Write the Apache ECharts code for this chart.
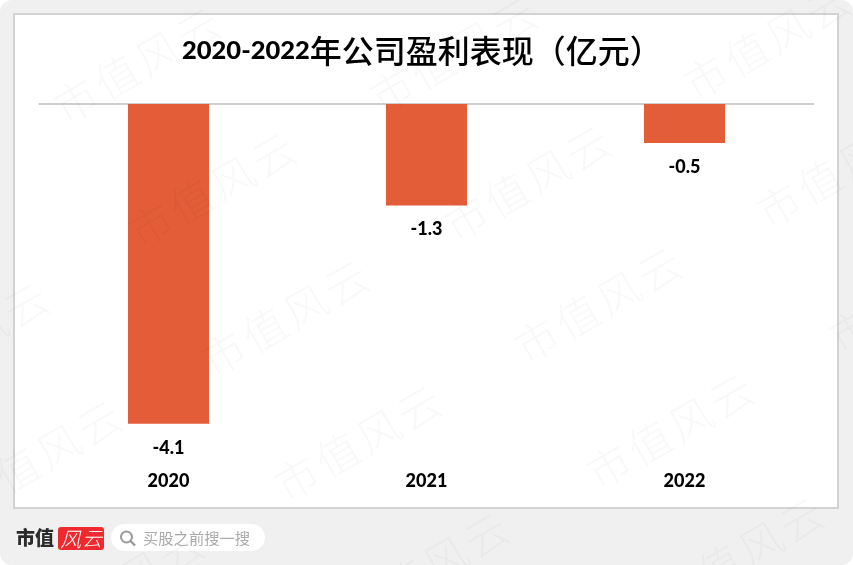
<!DOCTYPE html>
<html>
<head>
<meta charset="utf-8">
<title>公司盈利表现</title>
<style>html,body{margin:0;padding:0;background:#fff}#c{width:853px;height:565px}</style>
<script src="https://cdn.jsdelivr.net/npm/echarts@6/dist/echarts.min.js"></script>
</head>
<body>
<div id="c"></div>
<script>
// 年度净利润（亿元）
const years = ['2020', '2021', '2022'];
const profit = [-4.1, -1.3, -0.5];
const titleYears = '2020-2022';
const titleText = '年公司盈利表现（亿元）';
const brand = '市值';
const searchHint = '买股之前搜一搜';

// 水印：每组文字的中心点
const stampChars = ['市', '值', '风', '云'];
const stampCenters = [
  [137, 65], [453, 55], [767, 42],
  [212, 190], [527, 183], [840, 170],
  [-35, 340], [285, 318], [598, 305], [912, 295],
  [38, 458], [358, 443], [670, 431],
  [120, 585], [425, 570], [740, 555]
];

const CJK = '"Noto Sans CJK SC"';
const LATIN = 'Lato, ' + CJK;

function stampElements() {
  const out = [];
  const step = 47, angle = Math.PI / 6;
  stampCenters.forEach(([cx, cy]) => {
    stampChars.forEach((ch, i) => {
      const d = (i - 1.5) * step;
      out.push({
        type: 'text', z: 100, silent: true,
        x: cx + d * Math.cos(angle), y: cy - d * Math.sin(angle),
        rotation: angle,
        style: {
          text: ch, fill: 'rgba(0,0,0,0.028)', font: '200 43px ' + CJK,
          align: 'center', verticalAlign: 'middle'
        }
      });
    });
  });
  return out;
}

const frame = [
  { type: 'rect', z: -20, shape: { x: 0, y: 0, width: 853, height: 565, r: 12 }, style: { fill: '#f0f0f0' } },
  { type: 'rect', z: -19, shape: { x: 14, y: 14, width: 824, height: 494 }, style: { fill: '#fff', stroke: '#d2d2d2', lineWidth: 2 } }
];

const footer = [
  { type: 'text', z: 5, x: 16, y: 538, style: { text: brand, fill: '#2b2b2b', font: '900 19px ' + CJK, verticalAlign: 'middle' } },
  { type: 'rect', z: 5, shape: { x: 58, y: 527, width: 46, height: 23, r: 3 }, style: { fill: '#ee2a2e' } },
  { type: 'text', z: 6, x: 60, y: 539, style: { text: '风', fill: '#fff', font: 'italic 200 21px ' + CJK, verticalAlign: 'middle' } },
  { type: 'text', z: 6, x: 82, y: 538, style: { text: '云', fill: '#fff', font: 'italic 200 20px ' + CJK, verticalAlign: 'middle' } },
  { type: 'rect', z: 5, shape: { x: 111, y: 524, width: 154, height: 27, r: 13.5 }, style: { fill: '#fff' } },
  { type: 'circle', z: 6, shape: { cx: 126.5, cy: 537, r: 5.5 }, style: { fill: 'none', stroke: '#999', lineWidth: 2 } },
  { type: 'line', z: 6, shape: { x1: 130.5, y1: 541, x2: 135, y2: 545.5 }, style: { stroke: '#999', lineWidth: 2.4 } },
  { type: 'text', z: 6, x: 143, y: 538, style: { text: searchHint, fill: '#ababab', font: '400 15.3px ' + CJK, verticalAlign: 'middle' } }
];

const chart = echarts.init(document.getElementById('c'), null, { renderer: 'canvas' });
chart.setOption({
  animation: false,
  backgroundColor: '#fff',
  title: {
    left: 177, top: 30,
    text: '{a|' + titleYears + '}{b|' + titleText + '}',
    textStyle: {
      rich: {
        a: { fontFamily: LATIN, fontWeight: 900, fontSize: 25.5, color: '#000' },
        b: { fontFamily: CJK, fontWeight: 500, fontSize: 32, color: '#000' }
      }
    }
  },
  grid: { left: 39.5, right: 39.5, top: 104, height: 351 },
  xAxis: [
    {
      type: 'category', data: years, position: 'bottom',
      axisLine: { show: false, onZero: false }, axisTick: { show: false },
      axisLabel: { margin: 17, color: '#000', fontFamily: LATIN, fontWeight: 900, fontSize: 18 }
    },
    {
      type: 'category', data: years, position: 'top', offset: 1,
      axisLine: { show: true, lineStyle: { color: '#cfcfcf', width: 2 } },
      axisTick: { show: false }, axisLabel: { show: false }
    }
  ],
  yAxis: { type: 'value', min: -4.5, max: 0, interval: 0.5, show: false, splitLine: { show: false } },
  series: [{
    type: 'bar', data: profit, barWidth: 81,
    itemStyle: { color: '#e35d38' },
    label: {
      show: true, position: 'bottom', distance: 15,
      color: '#000', fontFamily: LATIN, fontWeight: 900, fontSize: 18
    }
  }],
  graphic: { elements: frame.concat(footer, stampElements()) }
});
</script>
</body>
</html>
